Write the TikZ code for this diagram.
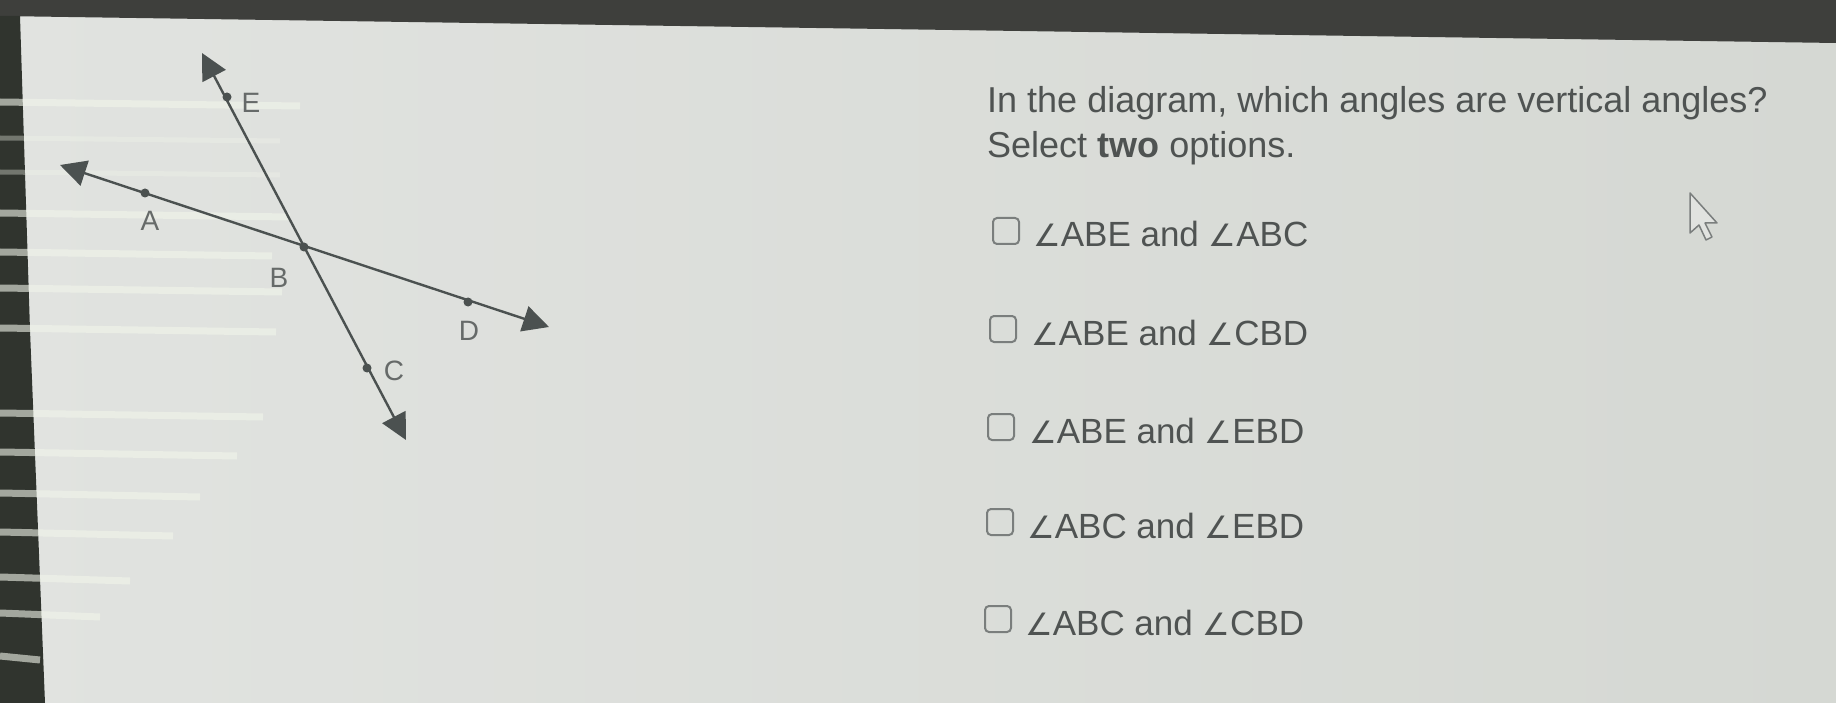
\documentclass[tikz,border=0pt]{standalone}
\usepackage{fontspec}
\usepackage{graphicx}
\setmainfont{Liberation Sans}
\newfontfamily\symfont{DejaVu Sans}
\usetikzlibrary{arrows.meta}
\definecolor{bgL}{HTML}{E1E3E0}
\definecolor{bgR}{HTML}{D5D8D3}
\definecolor{topbar}{HTML}{3E3F3C}
\definecolor{leftbar}{HTML}{30342E}
\definecolor{band}{HTML}{F1F5EA}
\definecolor{geo}{HTML}{4B5150}
\definecolor{lab}{HTML}{666A69}
\definecolor{txt}{HTML}{4F5352}
\definecolor{boxc}{HTML}{7A7E7D}
\newcommand{\angl}{{\symfont\scalebox{0.88}{∠}}}
\tikzset{
  ray/.style={draw=geo, line width=2.4pt, {Triangle[length=26pt,width=26pt]}-{Triangle[length=26pt,width=26pt]}},
  pt/.style={circle, fill=geo, inner sep=0pt, minimum size=9pt},
  ptlab/.style={text=lab, font=\fontsize{28}{30}\selectfont, inner sep=0pt},
  qtext/.style={anchor=base west, text=txt, font=\fontsize{36}{40}\selectfont, inner sep=0pt},
  opt/.style={anchor=base west, text=txt, font=\fontsize{35}{38}\selectfont, inner sep=0pt},
  cbox/.style={draw=boxc, line width=2pt, rounded corners=4pt, minimum width=26pt, minimum height=26pt, inner sep=0pt},
  bandline/.style={draw=band, line width=7pt, opacity=0.6},
  faintband/.style={draw=band, line width=5pt, opacity=0.35}
}
\begin{document}
\begin{tikzpicture}[x=1pt,y=-1pt]
\useasboundingbox (0,0) rectangle (1836,703);
% background
\shade[left color=bgL, right color=bgR] (0,0) rectangle (1836,703);
\fill[topbar] (0,0) -- (1836,0) -- (1836,43) -- (0,16) -- cycle;
\fill[leftbar] (0,16) -- (20,16) -- (30,330) -- (45,703) -- (0,703) -- cycle;
% reflection bands
\foreach \y/\e in {102/300, 213/290, 252/272, 288/282, 328/276, 413/263, 452/237, 493/200, 532/173, 577/130, 613/100, 656/40}
  {\draw[bandline] (0,\y) -- (\e,\y+4);}
\foreach \y/\e in {138/280, 172/280}
  {\draw[faintband] (0,\y) -- (\e,\y+3);}
% geometry
\coordinate (tA) at (60,165);
\coordinate (tD) at (549,327);
\coordinate (tE) at (202,53);
\coordinate (tC) at (406,440);
\draw[ray] (tA) -- (tD);
\draw[ray] (tE) -- (tC);
\node[pt] (A) at (145,193) {};
\node[pt] (B) at (304,247) {};
\node[pt] (D) at (468,302) {};
\node[pt] (E) at (227,97) {};
\node[pt] (C) at (367,368) {};
\node[ptlab] (lA) at (150,221) {A};
\node[ptlab] (lB) at (279,278) {B};
\node[ptlab] (lD) at (469,331) {D};
\node[ptlab] (lE) at (251,103) {E};
\node[ptlab] (lC) at (394,371) {C};
% question
\node[qtext] (q1) at (987,113) {In the diagram, which angles are vertical angles?};
\node[qtext] (q2) at (987,158) {Select \textbf{two} options.};
% options
\node[cbox] (c1) at (1006,231) {};
\node[opt] (o1) at (1033,247) {\angl ABE and \angl ABC};
\node[cbox] (c2) at (1003,329) {};
\node[opt] (o2) at (1031,345) {\angl ABE and \angl CBD};
\node[cbox] (c3) at (1001,427) {};
\node[opt] (o3) at (1029,443) {\angl ABE and \angl EBD};
\node[cbox] (c4) at (1000,522) {};
\node[opt] (o4) at (1027,538) {\angl ABC and \angl EBD};
\node[cbox] (c5) at (998,619) {};
\node[opt] (o5) at (1025,635) {\angl ABC and \angl CBD};
% cursor
\draw[draw=boxc, fill=bgL, line width=1.5pt, line join=round]
  (1690,193) -- (1690,233) -- (1699,225) -- (1706,240) -- (1712,237) -- (1705,223) -- (1717,223) -- cycle;
\end{tikzpicture}
\end{document}
